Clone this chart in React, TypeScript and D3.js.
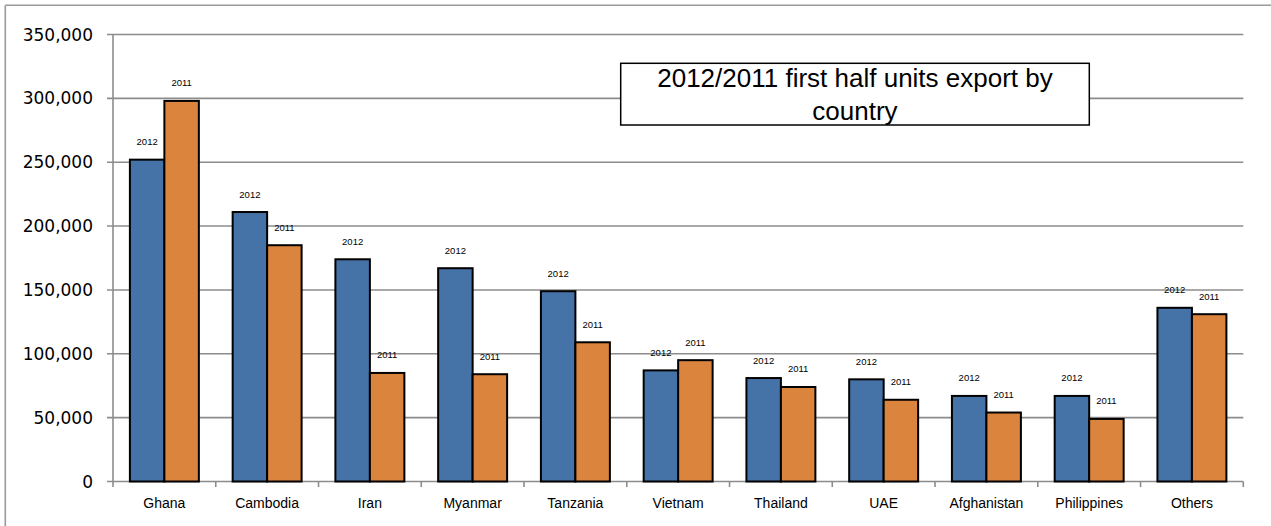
import React from "react";
import * as d3 from "d3";

const categories = ["Ghana", "Cambodia", "Iran", "Myanmar", "Tanzania", "Vietnam", "Thailand", "UAE", "Afghanistan", "Philippines", "Others"];
const seriesNames = ["2012", "2011"];
const values2012 = [252000, 211000, 174000, 167000, 149000, 87000, 81000, 80000, 67000, 67000, 136000];
const values2011 = [298000, 185000, 85000, 84000, 109000, 95000, 74000, 64000, 54000, 49000, 131000];
const yTicks = [0, 50000, 100000, 150000, 200000, 250000, 300000, 350000];
const titleLines = ["2012/2011 first half units export by", "country"];

const W = 1271;
const H = 526;
const plotLeft = 113;
const plotRight = 1243.3;
const plotTop = 34.5;
const plotBottom = 481.5;

const colors: Record<string, string> = { "2012": "#4572A7", "2011": "#DB843D" };

export default function App() {
  const x = d3.scaleBand<string>().domain(categories).range([plotLeft, plotRight]).paddingInner(0).paddingOuter(0);
  const x1 = d3.scaleBand<string>().domain(seriesNames).range([0, x.bandwidth()]).paddingInner(0).paddingOuter(0.49);
  const y = d3.scaleLinear().domain([0, 350000]).range([plotBottom, plotTop]);
  const fmt = d3.format(",");
  const seriesValues: Record<string, number[]> = { "2012": values2012, "2011": values2011 };

  const boundaries = categories.map((c) => x(c) as number).concat([plotRight]);

  return (
    <svg width={W} height={H} style={{ position: "absolute", left: 0, top: 0, background: "#fff" }}>
      <rect x={0} y={0} width={W} height={H} fill="#fff" />
      {/* outer border */}
      <line x1={5.3} x2={W + 2} y1={5.3} y2={5.3} stroke="#9a9a9a" strokeWidth={1.6} />
      <line x1={5.3} x2={5.3} y1={5.3} y2={H + 2} stroke="#9a9a9a" strokeWidth={1.6} />

      {/* gridlines */}
      {yTicks.filter((t) => t > 0).map((t) => (
        <line key={"g" + t} x1={plotLeft - 6} x2={plotRight} y1={y(t)} y2={y(t)} stroke="#8c8c8c" strokeWidth={1.6} />
      ))}
      {/* y axis */}
      <line x1={plotLeft} x2={plotLeft} y1={plotTop} y2={plotBottom} stroke="#8c8c8c" strokeWidth={1.6} />
      <line x1={plotLeft - 6} x2={plotRight} y1={plotBottom} y2={plotBottom} stroke="#8c8c8c" strokeWidth={1.6} />
      {boundaries.map((b, i) => (
        <line key={"t" + i} x1={b} x2={b} y1={plotBottom} y2={plotBottom + 5.5} stroke="#8c8c8c" strokeWidth={1.6} />
      ))}
      {yTicks.map((t) => (
        <text key={"yl" + t} x={93} y={y(t)} textAnchor="end" dominantBaseline="central" fontFamily="DejaVu Sans" fontSize={17} fill="#000">
          {fmt(t)}
        </text>
      ))}

      {/* bars */}
      {categories.map((c, i) => (
        <g key={c}>
          {seriesNames.map((s) => {
            const v = seriesValues[s][i];
            const bx = (x(c) as number) + (x1(s) as number);
            return (
              <g key={s}>
                <rect x={bx} y={y(v)} width={x1.bandwidth()} height={plotBottom - y(v)} fill={colors[s]} stroke="#000" strokeWidth={2} />
                <text x={bx + x1.bandwidth() / 2} y={y(v) - 14.5} textAnchor="middle" fontFamily="Liberation Sans, Arial, sans-serif" fontSize={9.5} fill="#000">
                  {s}
                </text>
              </g>
            );
          })}
          <text x={(x(c) as number) + x.bandwidth() / 2} y={507.5} textAnchor="middle" fontFamily="Liberation Sans, Arial, sans-serif" fontSize={14} fill="#000">
            {c}
          </text>
        </g>
      ))}

      {/* title box */}
      <rect x={620.7} y={63.3} width={468.6} height={61.7} fill="#fff" stroke="#000" strokeWidth={1.5} />
      {titleLines.map((l, i) => (
        <text key={l} x={855} y={86.7 + i * 32.8} textAnchor="middle" fontFamily="Liberation Sans, Arial, sans-serif" fontSize={26} fill="#000">
          {l}
        </text>
      ))}
    </svg>
  );
}
